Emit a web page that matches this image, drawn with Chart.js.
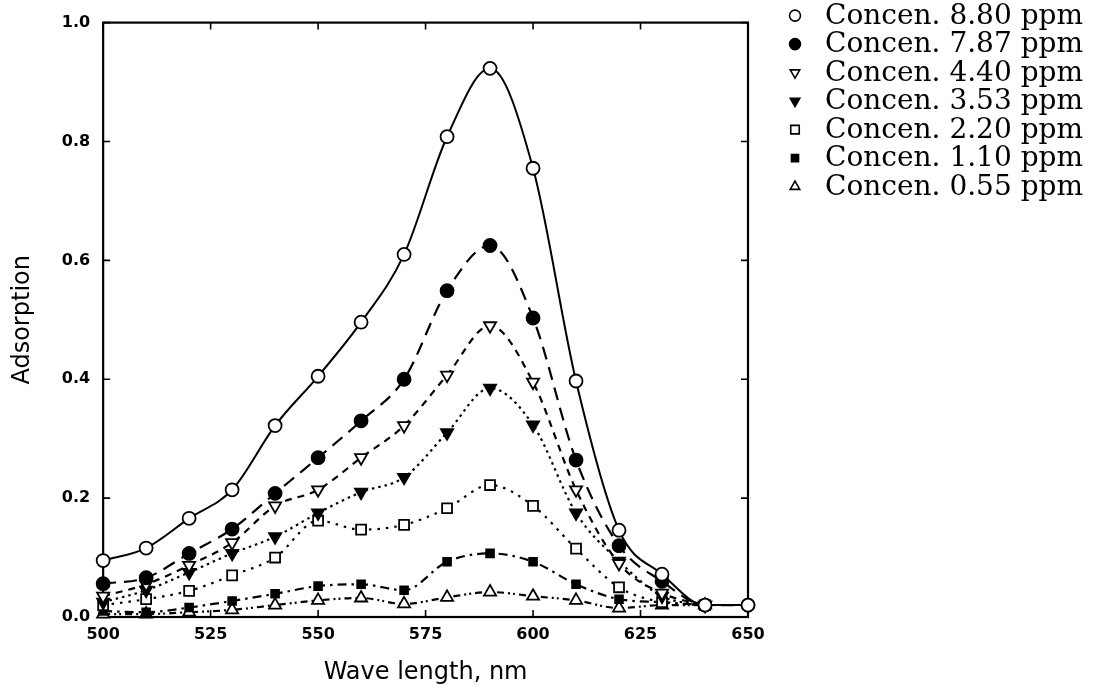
<!DOCTYPE html>
<html>
<head>
<meta charset="utf-8">
<script src="https://cdn.jsdelivr.net/npm/chart.js@4.4.1/dist/chart.umd.min.js"></script>
<style>
  html, body { margin: 0; padding: 0; background: #fff; }
  #wrap { width: 1115px; height: 697px; }
</style>
</head>
<body>
<div id="wrap"><canvas id="myChart"></canvas></div>
<script>
//data - wavelength (nm) and absorption

const wavelengths = [500, 510, 520, 530, 540, 550, 560, 570, 580, 590, 600, 610, 620, 630, 640, 650];

const c880 = [0.095, 0.116, 0.166, 0.214, 0.322, 0.405, 0.496, 0.610, 0.808, 0.923, 0.755, 0.397, 0.146, 0.072, 0.020, 0.020];
const c787 = [0.056, 0.066, 0.107, 0.148, 0.208, 0.268, 0.330, 0.400, 0.549, 0.625, 0.503, 0.264, 0.120, 0.060, 0.020, 0.020];
const c440 = [0.035, 0.055, 0.087, 0.125, 0.187, 0.214, 0.268, 0.322, 0.407, 0.490, 0.395, 0.214, 0.090, 0.040, 0.020, null];
const c353 = [0.025, 0.045, 0.075, 0.107, 0.135, 0.175, 0.210, 0.235, 0.310, 0.385, 0.323, 0.175, 0.094, 0.035, 0.020, null];
const c220 = [0.020, 0.030, 0.044, 0.070, 0.100, 0.162, 0.147, 0.155, 0.183, 0.222, 0.187, 0.115, 0.050, 0.025, 0.020, null];
const c110 = [0.010, 0.008, 0.016, 0.027, 0.039, 0.052, 0.055, 0.045, 0.093, 0.107, 0.093, 0.055, 0.030, 0.025, 0.020, null];
const c055 = [0.005, 0.005, 0.008, 0.012, 0.020, 0.028, 0.032, 0.022, 0.033, 0.042, 0.035, 0.028, 0.015, 0.020, 0.020, null];

const seriesLabels = ['Concen. 8.80 ppm', 'Concen. 7.87 ppm', 'Concen. 4.40 ppm', 'Concen. 3.53 ppm',
                      'Concen. 2.20 ppm', 'Concen. 1.10 ppm', 'Concen. 0.55 ppm'];

const toPoints = vals => wavelengths.map((w, i) => ({x: w, y: vals[i]}));

//one style entry per series: marker, fill, dash

const styles = [
    {pointStyle: 'circle',   rot: 0,   fill: '#fff', dash: [],                 r: 6.5},
    {pointStyle: 'circle',   rot: 0,   fill: '#000', dash: [13, 8],            r: 6.5},
    {pointStyle: 'triangle', rot: 180, fill: '#fff', dash: [7, 6],             r: 7},
    {pointStyle: 'triangle', rot: 180, fill: '#000', dash: [2.5, 4],           r: 7},
    {pointStyle: 'rect',     rot: 0,   fill: '#fff', dash: [2.5, 6],           r: 7},
    {pointStyle: 'rect',     rot: 0,   fill: '#000', dash: [9, 5, 2.5, 5],     r: 5.5},
    {pointStyle: 'triangle', rot: 0,   fill: '#fff', dash: [7, 4, 2, 3, 2, 4], r: 7}
];

const allValues = [c880, c787, c440, c353, c220, c110, c055];

const data = {
    datasets: allValues.map((vals, i) => ({
        label: seriesLabels[i],
        data: toPoints(vals),
        borderColor: '#000',
        backgroundColor: styles[i].fill,
        borderWidth: i === 0 ? 2 : 2.2,
        borderDash: styles[i].dash,
        cubicInterpolationMode: 'monotone',
        pointStyle: styles[i].pointStyle,
        pointRotation: styles[i].rot,
        pointRadius: styles[i].r,
        pointBorderWidth: 1.8,
        pointBackgroundColor: styles[i].fill,
        pointBorderColor: '#000',
        fill: false,
        clip: false,
        spanGaps: false
    }))
};

//frame round the plot with inward tick marks on all four sides

const framePlugin = {
    id: 'frame',
    beforeDatasetsDraw(chart) {
        const {ctx, chartArea: a, scales} = chart;
        const x = scales.x, y = scales.y;
        ctx.save();
        ctx.strokeStyle = '#000';
        ctx.lineWidth = 2.2;
        ctx.strokeRect(a.left, a.top, a.width, a.height);
        ctx.lineWidth = 1.6;
        ctx.beginPath();
        x.ticks.forEach(t => {
            const px = x.getPixelForValue(t.value);
            ctx.moveTo(px, a.bottom); ctx.lineTo(px, a.bottom - 7);
            ctx.moveTo(px, a.top); ctx.lineTo(px, a.top + 7);
        });
        y.ticks.forEach(t => {
            const py = y.getPixelForValue(t.value);
            ctx.moveTo(a.left, py); ctx.lineTo(a.left + 7, py);
            ctx.moveTo(a.right, py); ctx.lineTo(a.right - 7, py);
        });
        ctx.stroke();
        ctx.restore();
    }
};

//legend to the right of the frame (the built-in one is capped too narrow)

const sideLegend = {
    id: 'sideLegend',
    afterDraw(chart) {
        const {ctx, chartArea: a} = chart;
        ctx.save();
        ctx.font = '28px "DejaVu Serif"';
        ctx.textBaseline = 'middle';
        ctx.textAlign = 'left';
        chart.data.datasets.forEach((ds, i) => {
            const cy = a.top - 7 + i * 28.5;
            ctx.fillStyle = ds.pointBackgroundColor;
            ctx.strokeStyle = '#000';
            ctx.lineWidth = 1.6;
            ctx.setLineDash([]);
            Chart.helpers.drawPoint(ctx, {
                pointStyle: ds.pointStyle,
                rotation: ds.pointRotation,
                radius: ds.pointStyle === 'rect' ? (ds.pointBackgroundColor === '#000' ? 5 : 6) : 5.5,
                borderWidth: 1.6
            }, a.right + 47, cy);
            ctx.fillStyle = '#000';
            ctx.fillText(ds.label, a.right + 77, cy + 1);
        });
        ctx.restore();
    }
};

const tickFont = {family: 'DejaVu Sans', size: 16, weight: 'bold'};
const titleFont = {family: 'DejaVu Sans', size: 24};

//options

const options = {
    responsive: true,
    maintainAspectRatio: false,
    animation: false,
    layout: {padding: {top: 0, right: 367, bottom: 10, left: 0}},
    plugins: {
        legend: {display: false},
        tooltip: {enabled: false}
    },
    scales: {
        x: {
            type: 'linear',
            position: 'bottom',
            min: 500,
            max: 650,
            grid: {display: false, drawTicks: false},
            border: {display: false},
            ticks: {stepSize: 25, color: '#000', font: tickFont, padding: 8, maxRotation: 0},
            title: {display: true, text: 'Wave length, nm', color: '#000', font: titleFont,
                    padding: {top: 6, bottom: 0}}
        },
        y: {
            type: 'linear',
            position: 'left',
            min: 0,
            max: 1,
            grid: {display: false, drawTicks: false},
            border: {display: false},
            ticks: {stepSize: 0.2, color: '#000', font: tickFont, padding: 13,
                    callback: v => v.toFixed(1)},
            title: {display: true, text: 'Adsorption', color: '#000', font: titleFont,
                    padding: {top: 8, bottom: 12}}
        },
        xTop: {
            type: 'linear',
            position: 'top',
            display: true,
            grid: {display: false, drawTicks: false},
            border: {display: false},
            ticks: {display: false},
            afterFit: s => { s.height = 22; }
        }
    }
};

//config and render

const config = {
    type: 'line',
    data,
    options,
    plugins: [framePlugin, sideLegend]
};

const myChart = new Chart(
    document.getElementById('myChart'),
    config
);
</script>
</body>
</html>
